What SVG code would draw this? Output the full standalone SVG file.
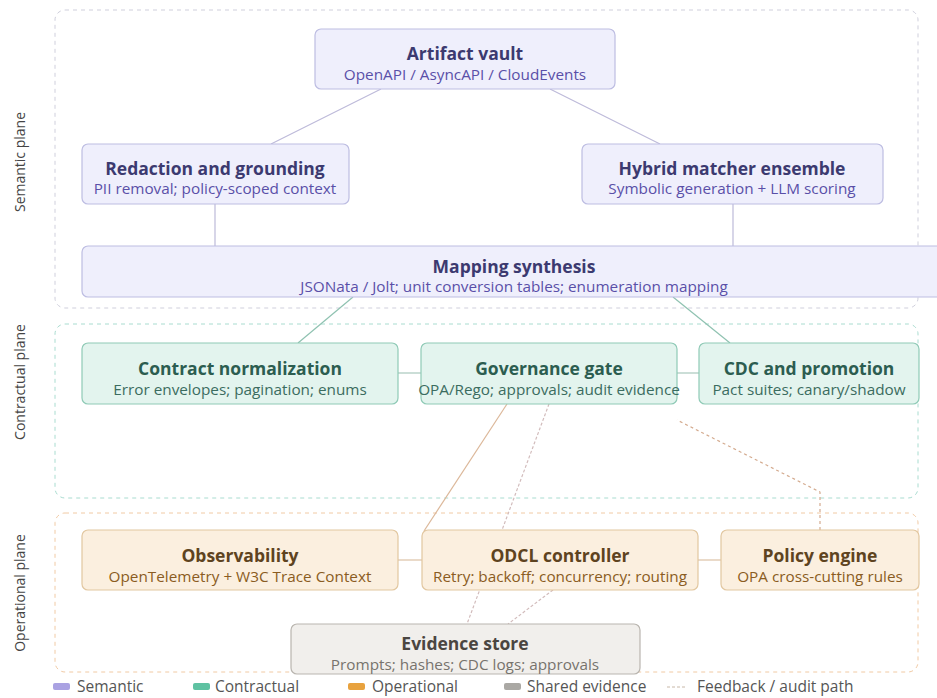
<svg xmlns="http://www.w3.org/2000/svg" width="937" height="698" viewBox="0 0 937 698">
<style>
text{font-family:"Open Sans","Noto Sans","DejaVu Sans",sans-serif}
.t{font-size:17.5px;font-weight:700;text-anchor:middle}
.s{font-size:15.3px;text-anchor:middle}
.pl{font-size:14px;fill:#444;text-anchor:middle}
.lg{font-size:15.5px;fill:#555}
.sem rect{fill:#efeffc;stroke:#bdbde2;stroke-width:1.2}
.sem .t{fill:#3c3a70}.sem .s{fill:#5a4fa8}
.con rect{fill:#e3f4ee;stroke:#8fcab6;stroke-width:1.2}
.con .t{fill:#2c5d50}.con .s{fill:#3b6c60}
.op rect{fill:#fbefdf;stroke:#e2c7a0;stroke-width:1.2}
.op .t{fill:#5e4320}.op .s{fill:#8a5c22}
.ev rect{fill:#f1efec;stroke:#b9b5af;stroke-width:1.2}
.ev .t{fill:#4a4641}.ev .s{fill:#77736d}
.c{fill:none;stroke-width:1.2}
</style>
<rect width="937" height="698" fill="#ffffff"/>
<g id="planes" fill="none" stroke-width="1" stroke-dasharray="4 4">
<rect x="55" y="10" width="863" height="298" rx="10" stroke="#cfcfdc"/>
<rect x="55" y="324" width="863" height="174" rx="10" stroke="#a9dcd0"/>
<rect x="55" y="513" width="863" height="159" rx="10" stroke="#f1caa4"/>
</g>
<g id="plane-labels">
<text class="pl" transform="translate(25 162) rotate(-90)">Semantic plane</text>
<text class="pl" transform="translate(25 382) rotate(-90)">Contractual plane</text>
<text class="pl" transform="translate(25 593) rotate(-90)">Operational plane</text>
</g>
<g id="connectors">
<line class="c" x1="381" y1="89" x2="271" y2="144" stroke="#bdbad9"/>
<line class="c" x1="550" y1="89" x2="660" y2="144" stroke="#bdbad9"/>
<line class="c" x1="215" y1="204" x2="215" y2="246" stroke="#bdbad9"/>
<line class="c" x1="733" y1="204" x2="733" y2="246" stroke="#bdbad9"/>
<line class="c" x1="353" y1="297" x2="298" y2="343" stroke="#8fc2b1"/>
<line class="c" x1="673" y1="297" x2="730" y2="343" stroke="#8fc2b1"/>
<line class="c" x1="398" y1="373" x2="421" y2="373" stroke="#a9c9bd"/>
<line class="c" x1="677" y1="373" x2="699" y2="373" stroke="#a9c9bd"/>
<line class="c" x1="507" y1="404" x2="424" y2="531" stroke="#dcb89a"/>
<line class="c" x1="549" y1="404" x2="467" y2="624" stroke="#d2bcbc" stroke-dasharray="3 2"/>
<line class="c" x1="553" y1="590" x2="508" y2="624" stroke="#d2bcbc" stroke-dasharray="3 2"/>
<line class="c" x1="398" y1="560" x2="422" y2="560" stroke="#dcc2a4"/>
<line class="c" x1="698" y1="560" x2="721" y2="560" stroke="#dcc2a4"/>
<polyline class="c" points="820,530 820,492 677,420" stroke="#d4ab8f" stroke-dasharray="3 3"/>
</g>
<g id="artifact-vault" class="sem">
<rect x="315" y="29" width="300" height="60" rx="6"/>
<text class="t" x="465" y="60">Artifact vault</text>
<text class="s" x="465" y="80">OpenAPI / AsyncAPI / CloudEvents</text>
</g>
<g id="redaction" class="sem">
<rect x="82" y="144" width="267" height="60" rx="6"/>
<text class="t" x="215" y="175">Redaction and grounding</text>
<text class="s" x="215" y="194">PII removal; policy-scoped context</text>
</g>
<g id="hybrid-matcher" class="sem">
<rect x="582" y="144" width="301" height="60" rx="6"/>
<text class="t" x="732" y="175">Hybrid matcher ensemble</text>
<text class="s" x="732" y="194">Symbolic generation + LLM scoring</text>
</g>
<g id="mapping-synthesis" class="sem">
<rect x="82" y="246" width="864" height="51" rx="6"/>
<text class="t" x="514" y="273">Mapping synthesis</text>
<text class="s" x="514" y="292">JSONata / Jolt; unit conversion tables; enumeration mapping</text>
</g>
<g id="contract-normalization" class="con">
<rect x="82" y="343" width="316" height="61" rx="6"/>
<text class="t" x="240" y="375">Contract normalization</text>
<text class="s" x="240" y="395">Error envelopes; pagination; enums</text>
</g>
<g id="governance-gate" class="con">
<rect x="421" y="343" width="256" height="61" rx="6"/>
<text class="t" x="549" y="375">Governance gate</text>
<text class="s" x="549" y="395">OPA/Rego; approvals; audit evidence</text>
</g>
<g id="cdc-promotion" class="con">
<rect x="699" y="343" width="220" height="61" rx="6"/>
<text class="t" x="809" y="375">CDC and promotion</text>
<text class="s" x="809" y="395">Pact suites; canary/shadow</text>
</g>
<g id="observability" class="op">
<rect x="82" y="530" width="316" height="60" rx="6"/>
<text class="t" x="240" y="562">Observability</text>
<text class="s" x="240" y="582">OpenTelemetry + W3C Trace Context</text>
</g>
<g id="odcl-controller" class="op">
<rect x="422" y="530" width="276" height="60" rx="6"/>
<text class="t" x="560" y="562">ODCL controller</text>
<text class="s" x="560" y="582">Retry; backoff; concurrency; routing</text>
</g>
<g id="policy-engine" class="op">
<rect x="721" y="530" width="198" height="60" rx="6"/>
<text class="t" x="820" y="562">Policy engine</text>
<text class="s" x="820" y="582">OPA cross-cutting rules</text>
</g>
<g id="evidence-store" class="ev">
<rect x="291" y="624" width="349" height="50" rx="6"/>
<text class="t" x="465" y="650">Evidence store</text>
<text class="s" x="465" y="670">Prompts; hashes; CDC logs; approvals</text>
</g>
<g id="legend">
<rect x="53" y="683" width="17" height="7" rx="2" fill="#aaa2e2"/>
<text class="lg" x="77" y="692">Semantic</text>
<rect x="193" y="683" width="17" height="7" rx="2" fill="#5fc2a2"/>
<text class="lg" x="215" y="692">Contractual</text>
<rect x="348" y="683" width="17" height="7" rx="2" fill="#e8a23e"/>
<text class="lg" x="372" y="692">Operational</text>
<rect x="504" y="683" width="17" height="7" rx="2" fill="#aaa8a4"/>
<text class="lg" x="527" y="692">Shared evidence</text>
<line x1="667" y1="687" x2="686" y2="687" stroke="#c8b8a8" stroke-width="1" stroke-dasharray="3 2"/>
<text class="lg" x="697" y="692">Feedback / audit path</text>
</g>
</svg>
